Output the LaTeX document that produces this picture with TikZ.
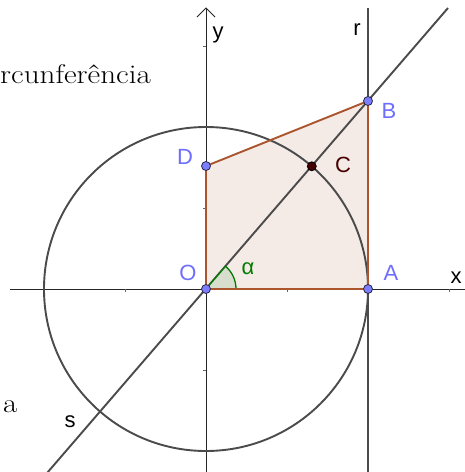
\documentclass[tikz,border=0pt]{standalone}
\usepackage{fontspec}
\newfontfamily\lab{Liberation Sans}
\definecolor{ptblue}{RGB}{125,125,255}
\definecolor{ptedge}{RGB}{40,40,70}
\definecolor{cdark}{RGB}{70,0,0}
\definecolor{polyc}{RGB}{170,85,45}
\definecolor{polyfill}{RGB}{244,234,230}
\definecolor{geo}{RGB}{75,75,75}
\definecolor{angg}{RGB}{0,125,0}
\definecolor{angfill}{RGB}{216,222,206}
\definecolor{lblue}{RGB}{110,110,255}
\tikzset{
  pt/.style={circle,fill=ptblue,draw=ptedge,line width=0.8pt,inner sep=0pt,minimum size=9pt},
  ptc/.style={circle,fill=cdark,draw=black,line width=0.8pt,inner sep=0pt,minimum size=9pt},
  lbl/.style={font=\lab\fontsize{22}{22}\selectfont,inner sep=0pt},
  geoline/.style={draw=geo,line width=1.9pt},
  axis/.style={draw=black!85,line width=1pt},
  tick/.style={draw=black!60,line width=0.9pt},
  serif/.style={font=\fontsize{27}{27}\selectfont,inner sep=0pt,xscale=1.15}
}
\begin{document}
\begin{tikzpicture}[x=1pt,y=-1pt]
\useasboundingbox (0,0) rectangle (465,472);
\clip (0,0) rectangle (465,472);
\fill[white] (0,0) rectangle (465,472);
% key coordinates
\coordinate (o) at (206,289);
\coordinate (a) at (368,289);
\coordinate (b) at (368,101);
\coordinate (d) at (206,166);
\coordinate (c) at (311.8,166.3);
\coordinate (xl) at (10,289);
\coordinate (xr) at (475,289);
\coordinate (yb) at (206,480);
\coordinate (yt) at (206,8);
\coordinate (rt) at (368,8);
\coordinate (rb) at (368,480);
\coordinate (st) at (448,8);
\coordinate (sb) at (41,480);
% polygon fill
\fill[polyfill] (o) -- (a) -- (b) -- (d) -- cycle;
% axes
\draw[axis] (xl) -- (xr);
\draw[axis] (yb) -- (yt);
\draw[axis] ([xshift=-9pt,yshift=-9pt]yt) -- (yt) -- ([xshift=9pt,yshift=-9pt]yt);
% ticks
\foreach \t in {44,125,287,368,449} \draw[tick] (\t,289) -- (\t,292);
\foreach \t in {46,127,208,370,451} \draw[tick] (206,\t) -- (203,\t);
% circle
\draw[geoline] (o) circle[radius=162];
% lines r and s
\draw[geoline] (rb) -- (rt);
\draw[geoline] (sb) -- (st);
% angle
\filldraw[fill=angfill,draw=angg,line width=1.3pt] (o) -- ++(30,0) arc[start angle=0,end angle=-49.25,radius=30] -- cycle;
% polygon edges
\draw[polyc,line width=1.9pt,line join=round] (o) -- (a) -- (b) -- (d) -- cycle;
% points
\node[pt] (O) at (o) {};
\node[pt] (A) at (a) {};
\node[pt] (B) at (b) {};
\node[pt] (D) at (d) {};
\node[ptc] (C) at (c) {};
% labels
\node[lbl,text=lblue] (lO) at (188,273) {O};
\node[lbl,text=lblue] (lA) at (391,273) {A};
\node[lbl,text=lblue] (lB) at (389,111) {B};
\node[lbl,text=lblue] (lD) at (185,157) {D};
\node[lbl,text=cdark] (lC) at (343,165) {C};
\node[lbl,text=angg] (lal) at (248,269) {α};
\node[lbl,anchor=base] (lx) at (456,283) {x};
\node[lbl,anchor=base] (ly) at (218,38) {y};
\node[lbl,anchor=base] (lr) at (357,35) {r};
\node[lbl,anchor=base] (ls) at (70,427) {s};
\node[serif,anchor=base west] (t1) at (0,83) {rcunferência};
\node[serif,anchor=base west] (t2) at (3,412) {a};
\end{tikzpicture}
\end{document}
